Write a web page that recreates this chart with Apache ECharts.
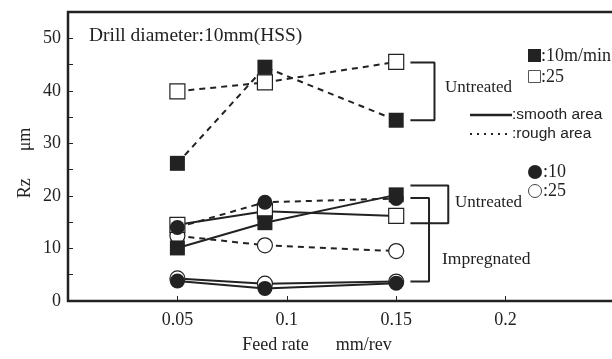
<!DOCTYPE html>
<html>
<head>
<meta charset="utf-8">
<script src="https://cdn.jsdelivr.net/npm/echarts@6/dist/echarts.min.js"></script>
<style>
  html, body { margin: 0; padding: 0; background: #fff; }
  #chart { width: 612px; height: 359px; }
</style>
</head>
<body>
<div id="chart"></div>
<script>
// feed rate (mm/rev)
var feedRates = [0.05, 0.09, 0.15]

// Rz (um), untreated, square markers
var sq10Rough = [26.2, 44.5, 34.4]
var sq25Rough = [39.9, 41.6, 45.5]
var sq10Smooth = [10.1, 14.9, 20.2]
var sq25Smooth = [14.5, 17.1, 16.2]

// Rz (um), untreated, circle markers
var ci10Rough = [14.0, 18.8, 19.5]
var ci25Rough = [12.4, 10.6, 9.5]

// Rz (um), impregnated
var imp10 = [3.8, 2.4, 3.4]
var imp25 = [4.3, 3.3, 3.7]

var xTicks = [0.05, 0.1, 0.15, 0.2]
var yTicks = [0, 10, 20, 30, 40, 50]

var SERIF = 'Liberation Serif'
var SANS = 'Liberation Sans'
var INK = '#222'

function pts(vals) {
  return vals.map(function (v, i) { return [feedRates[i], v] })
}

function mkSeries(name, vals, shape, filled, dashed) {
  return {
    name: name,
    type: 'line',
    data: pts(vals),
    symbol: shape,
    symbolSize: 15,
    showSymbol: true,
    itemStyle: {
      color: filled ? INK : '#fff',
      borderColor: INK,
      borderWidth: filled ? 0 : 1.2,
      opacity: 1
    },
    lineStyle: {
      color: INK,
      width: 2,
      type: dashed ? [6, 5] : 'solid'
    },
    emphasis: { disabled: true },
    animation: false
  }
}

// bracket helper, in data coordinates
function bracket(x0, x1, yTop, yBot) {
  return {
    type: 'line',
    data: [[x0, yTop], [x1, yTop], [x1, yBot], [x0, yBot]],
    symbol: 'none',
    lineStyle: { color: INK, width: 2 },
    silent: true,
    animation: false
  }
}

function txt(s, left, top, size, family, sx) {
  return {
    type: 'text', x: left, y: top, scaleX: sx || 1,
    style: { text: s, font: size + 'px ' + (family || SERIF), fill: INK, textVerticalAlign: 'middle' }
  }
}

var chart = echarts.init(document.getElementById('chart'))

chart.setOption({
  backgroundColor: '#fff',
  grid: {
    left: 68,
    right: -3,
    top: 12,
    bottom: 58,
    containLabel: false,
    outerBoundsMode: 'none',
    show: true,
    borderColor: INK,
    borderWidth: 2.5
  },
  xAxis: {
    type: 'value',
    min: 0,
    max: 0.25,
    interval: 0.05,
    splitLine: { show: false },
    axisLine: { show: false },
    axisTick: { show: true, inside: true, length: 5, lineStyle: { color: INK, width: 1 } },
    axisLabel: {
      margin: 10,
      fontFamily: SERIF,
      fontSize: 18,
      color: INK,
      formatter: function (v) {
        var r = Math.round(v * 100) / 100
        return xTicks.indexOf(r) >= 0 ? String(r) : ''
      }
    }
  },
  yAxis: {
    type: 'value',
    min: 0,
    max: 55,
    interval: 5,
    splitLine: { show: false },
    axisLine: { show: false },
    axisTick: { show: true, inside: true, length: 5, lineStyle: { color: INK, width: 1 } },
    axisLabel: {
      margin: 7,
      fontFamily: SERIF,
      fontSize: 18,
      color: INK,
      formatter: function (v) {
        return yTicks.indexOf(v) >= 0 ? String(v) : ''
      }
    }
  },
  series: [
    mkSeries('sq25 rough', sq25Rough, 'rect', false, true),
    mkSeries('sq10 rough', sq10Rough, 'rect', true, true),
    mkSeries('ci25 rough', ci25Rough, 'circle', false, true),
    mkSeries('sq25 smooth', sq25Smooth, 'rect', false, false),
    mkSeries('ci10 rough', ci10Rough, 'circle', true, true),
    mkSeries('sq10 smooth', sq10Smooth, 'rect', true, false),
    mkSeries('imp25', imp25, 'circle', false, false),
    mkSeries('imp10', imp10, 'circle', true, false),
    bracket(0.1565, 0.1675, 45.4, 34.4),
    bracket(0.1565, 0.1738, 22.0, 14.8),
    bracket(0.1565, 0.165, 19.6, 3.7)
  ],
  graphic: [
    txt('Drill diameter:10mm(HSS)', 89, 36, 18, SERIF, 1.08),
    txt('Untreated', 445, 88, 17),
    txt('Untreated', 455, 203, 17),
    txt('Impregnated', 442, 259, 17.5),

    // legend: squares
    { type: 'rect', shape: { x: 528, y: 49, width: 13, height: 13 }, style: { fill: INK } },
    txt(':10m/min', 541, 56, 18),
    { type: 'rect', shape: { x: 528.5, y: 70.5, width: 12, height: 12 }, style: { fill: '#fff', stroke: '#555', lineWidth: 1 } },
    txt(':25', 541, 77, 18),

    // legend: line styles
    { type: 'line', shape: { x1: 470, y1: 115, x2: 512, y2: 115 }, style: { stroke: INK, lineWidth: 2.5 } },
    txt(':smooth area', 512, 115, 15.5, SANS),
    { type: 'line', shape: { x1: 470, y1: 134, x2: 512, y2: 134 }, style: { stroke: INK, lineWidth: 2, lineDash: [2, 5] } },
    txt(':rough area', 512, 134, 15.5, SANS),

    // legend: circles
    { type: 'circle', shape: { cx: 535, cy: 172, r: 7 }, style: { fill: INK } },
    txt(':10', 543, 172, 18),
    { type: 'circle', shape: { cx: 535, cy: 191, r: 6.5 }, style: { fill: '#fff', stroke: '#444', lineWidth: 1 } },
    txt(':25', 543, 191, 18),

    // axis names
    {
      type: 'text', x: 25, y: 163, rotation: Math.PI / 2,
      style: { text: 'Rz　  μm', font: '18px ' + SERIF, fill: INK, textAlign: 'center', textVerticalAlign: 'middle' }
    },
    {
      type: 'text', x: 317, y: 345,
      style: { text: 'Feed rate　  mm/rev', font: '18px ' + SERIF, fill: INK, textAlign: 'center', textVerticalAlign: 'middle' }
    }
  ]
})
</script>
</body>
</html>
